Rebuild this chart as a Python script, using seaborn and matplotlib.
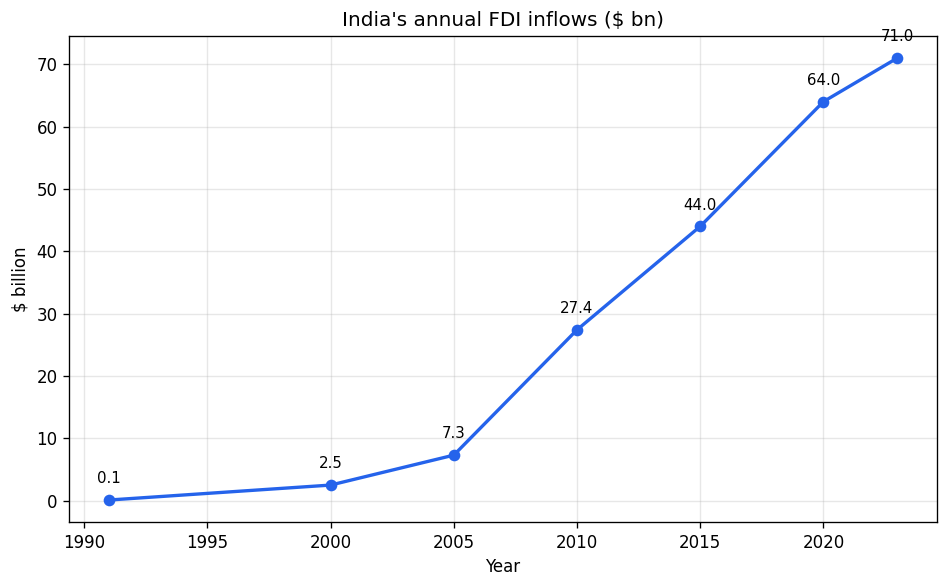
import matplotlib
matplotlib.use("Agg")
import matplotlib.pyplot as plt
import seaborn as sns
import pandas as pd

# data
years = [1991, 2000, 2005, 2010, 2015, 2020, 2023]
fdi_bn = [0.1, 2.5, 7.3, 27.4, 44.0, 64.0, 71.0]

df = pd.DataFrame({"Year": years, "FDI": fdi_bn})

fig, ax = plt.subplots(figsize=(7.91, 4.9), dpi=120)
sns.lineplot(data=df, x="Year", y="FDI", marker="o", color="#2563eb",
             linewidth=2, markersize=7, markeredgewidth=0, ax=ax)

for x, y in zip(years, fdi_bn):
    ax.annotate(f"{y:.1f}", (x, y), textcoords="offset points", xytext=(0, 10),
                ha="center", fontsize=9)

ax.set_title("India's annual FDI inflows ($ bn)")
ax.set_xlabel("Year")
ax.set_ylabel("$ billion")
ax.grid(True, alpha=0.3)

fig.subplots_adjust(left=0.073, right=0.987, top=0.939, bottom=0.112)
plt.savefig("out.png", dpi=120)
